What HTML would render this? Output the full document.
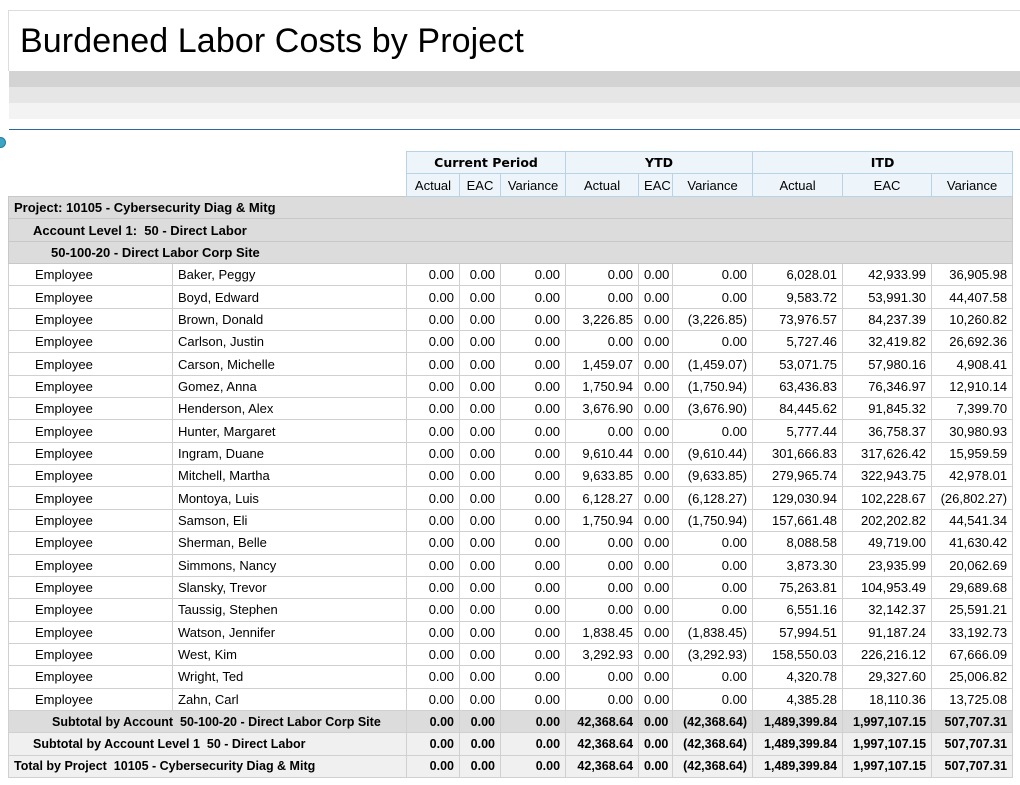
<!DOCTYPE html>
<html><head><meta charset="utf-8"><style>
body{margin:0;width:1020px;height:785px;background:#fff;font-family:"Liberation Sans",Arial,sans-serif;position:relative;overflow:hidden}
.hdr{position:absolute;left:8px;top:10px;width:1012px;height:60px;border-top:1px solid #ddd;border-left:1px solid #ddd}
.hdr h1{margin:0;font-weight:normal;font-size:34px;position:absolute;left:11px;top:11px;color:#000;letter-spacing:0.1px}
.b1{position:absolute;left:9px;top:71px;width:1011px;height:16px;background:#d3d3d3}
.b2{position:absolute;left:9px;top:87px;width:1011px;height:16px;background:#e6e6e6}
.b3{position:absolute;left:9px;top:103px;width:1011px;height:16px;background:#f3f3f3}
.bl{position:absolute;left:9px;top:129px;width:1011px;height:1px;background:#2a6a9a}
.dot{position:absolute;left:-5px;top:137px;width:9px;height:9px;border-radius:50%;background:#3aa6c4;border:1px solid #1a7fa0}
table{position:absolute;left:8px;top:151px;border-collapse:collapse;table-layout:fixed;width:1004px;font-size:13px}
td{padding:0 5px;height:21.35px;border:1px solid #d0d0d0;white-space:nowrap;overflow:hidden}
tr.h td{background:#edf4fa;border:1px solid #b9d3e6;text-align:center}
tr.h td.e{background:#fff;border:none}
tr.h1 td{font-weight:bold;font-family:"DejaVu Sans",sans-serif;font-size:12.5px;height:21px}
tr.h2 td{height:22px}
tr.g td{background:#dcdcdc;font-weight:bold;border-color:#c8c8c8}
td.n{text-align:right}
tr.s td{font-weight:bold;background:#dcdcdc;text-align:right;font-size:12.5px}
tr.s2 td{background:#f0f0f0}
tr.s td.l{text-align:left}
</style></head><body>
<div class="hdr"><h1>Burdened Labor Costs by Project</h1></div>
<div class="b1"></div><div class="b2"></div><div class="b3"></div><div class="bl"></div><div class="dot"></div>
<table>
<colgroup><col style="width:164px"><col style="width:234px"><col style="width:53px"><col style="width:41px"><col style="width:65px"><col style="width:73px"><col style="width:34px"><col style="width:80px"><col style="width:90px"><col style="width:89px"><col style="width:81px"></colgroup>
<tr class="h h1"><td class="e"></td><td class="e"></td><td colspan="3">Current Period</td><td colspan="3">YTD</td><td colspan="3">ITD</td></tr>
<tr class="h h2"><td class="e"></td><td class="e"></td><td>Actual</td><td>EAC</td><td>Variance</td><td>Actual</td><td>EAC</td><td>Variance</td><td>Actual</td><td>EAC</td><td>Variance</td></tr>
<tr class="g"><td colspan="11" style="padding-left:5px">Project: 10105 - Cybersecurity Diag &amp; Mitg</td></tr>
<tr class="g"><td colspan="11" style="padding-left:24px">Account Level 1:&nbsp; 50 - Direct Labor</td></tr>
<tr class="g"><td colspan="11" style="padding-left:42px">50-100-20 - Direct Labor Corp Site</td></tr>
<tr><td style="padding-left:26px">Employee</td><td>Baker, Peggy</td><td class="n">0.00</td><td class="n">0.00</td><td class="n">0.00</td><td class="n">0.00</td><td class="n">0.00</td><td class="n">0.00</td><td class="n">6,028.01</td><td class="n">42,933.99</td><td class="n">36,905.98</td></tr>
<tr><td style="padding-left:26px">Employee</td><td>Boyd, Edward</td><td class="n">0.00</td><td class="n">0.00</td><td class="n">0.00</td><td class="n">0.00</td><td class="n">0.00</td><td class="n">0.00</td><td class="n">9,583.72</td><td class="n">53,991.30</td><td class="n">44,407.58</td></tr>
<tr><td style="padding-left:26px">Employee</td><td>Brown, Donald</td><td class="n">0.00</td><td class="n">0.00</td><td class="n">0.00</td><td class="n">3,226.85</td><td class="n">0.00</td><td class="n">(3,226.85)</td><td class="n">73,976.57</td><td class="n">84,237.39</td><td class="n">10,260.82</td></tr>
<tr><td style="padding-left:26px">Employee</td><td>Carlson, Justin</td><td class="n">0.00</td><td class="n">0.00</td><td class="n">0.00</td><td class="n">0.00</td><td class="n">0.00</td><td class="n">0.00</td><td class="n">5,727.46</td><td class="n">32,419.82</td><td class="n">26,692.36</td></tr>
<tr><td style="padding-left:26px">Employee</td><td>Carson, Michelle</td><td class="n">0.00</td><td class="n">0.00</td><td class="n">0.00</td><td class="n">1,459.07</td><td class="n">0.00</td><td class="n">(1,459.07)</td><td class="n">53,071.75</td><td class="n">57,980.16</td><td class="n">4,908.41</td></tr>
<tr><td style="padding-left:26px">Employee</td><td>Gomez, Anna</td><td class="n">0.00</td><td class="n">0.00</td><td class="n">0.00</td><td class="n">1,750.94</td><td class="n">0.00</td><td class="n">(1,750.94)</td><td class="n">63,436.83</td><td class="n">76,346.97</td><td class="n">12,910.14</td></tr>
<tr><td style="padding-left:26px">Employee</td><td>Henderson, Alex</td><td class="n">0.00</td><td class="n">0.00</td><td class="n">0.00</td><td class="n">3,676.90</td><td class="n">0.00</td><td class="n">(3,676.90)</td><td class="n">84,445.62</td><td class="n">91,845.32</td><td class="n">7,399.70</td></tr>
<tr><td style="padding-left:26px">Employee</td><td>Hunter, Margaret</td><td class="n">0.00</td><td class="n">0.00</td><td class="n">0.00</td><td class="n">0.00</td><td class="n">0.00</td><td class="n">0.00</td><td class="n">5,777.44</td><td class="n">36,758.37</td><td class="n">30,980.93</td></tr>
<tr><td style="padding-left:26px">Employee</td><td>Ingram, Duane</td><td class="n">0.00</td><td class="n">0.00</td><td class="n">0.00</td><td class="n">9,610.44</td><td class="n">0.00</td><td class="n">(9,610.44)</td><td class="n">301,666.83</td><td class="n">317,626.42</td><td class="n">15,959.59</td></tr>
<tr><td style="padding-left:26px">Employee</td><td>Mitchell, Martha</td><td class="n">0.00</td><td class="n">0.00</td><td class="n">0.00</td><td class="n">9,633.85</td><td class="n">0.00</td><td class="n">(9,633.85)</td><td class="n">279,965.74</td><td class="n">322,943.75</td><td class="n">42,978.01</td></tr>
<tr><td style="padding-left:26px">Employee</td><td>Montoya, Luis</td><td class="n">0.00</td><td class="n">0.00</td><td class="n">0.00</td><td class="n">6,128.27</td><td class="n">0.00</td><td class="n">(6,128.27)</td><td class="n">129,030.94</td><td class="n">102,228.67</td><td class="n">(26,802.27)</td></tr>
<tr><td style="padding-left:26px">Employee</td><td>Samson, Eli</td><td class="n">0.00</td><td class="n">0.00</td><td class="n">0.00</td><td class="n">1,750.94</td><td class="n">0.00</td><td class="n">(1,750.94)</td><td class="n">157,661.48</td><td class="n">202,202.82</td><td class="n">44,541.34</td></tr>
<tr><td style="padding-left:26px">Employee</td><td>Sherman, Belle</td><td class="n">0.00</td><td class="n">0.00</td><td class="n">0.00</td><td class="n">0.00</td><td class="n">0.00</td><td class="n">0.00</td><td class="n">8,088.58</td><td class="n">49,719.00</td><td class="n">41,630.42</td></tr>
<tr><td style="padding-left:26px">Employee</td><td>Simmons, Nancy</td><td class="n">0.00</td><td class="n">0.00</td><td class="n">0.00</td><td class="n">0.00</td><td class="n">0.00</td><td class="n">0.00</td><td class="n">3,873.30</td><td class="n">23,935.99</td><td class="n">20,062.69</td></tr>
<tr><td style="padding-left:26px">Employee</td><td>Slansky, Trevor</td><td class="n">0.00</td><td class="n">0.00</td><td class="n">0.00</td><td class="n">0.00</td><td class="n">0.00</td><td class="n">0.00</td><td class="n">75,263.81</td><td class="n">104,953.49</td><td class="n">29,689.68</td></tr>
<tr><td style="padding-left:26px">Employee</td><td>Taussig, Stephen</td><td class="n">0.00</td><td class="n">0.00</td><td class="n">0.00</td><td class="n">0.00</td><td class="n">0.00</td><td class="n">0.00</td><td class="n">6,551.16</td><td class="n">32,142.37</td><td class="n">25,591.21</td></tr>
<tr><td style="padding-left:26px">Employee</td><td>Watson, Jennifer</td><td class="n">0.00</td><td class="n">0.00</td><td class="n">0.00</td><td class="n">1,838.45</td><td class="n">0.00</td><td class="n">(1,838.45)</td><td class="n">57,994.51</td><td class="n">91,187.24</td><td class="n">33,192.73</td></tr>
<tr><td style="padding-left:26px">Employee</td><td>West, Kim</td><td class="n">0.00</td><td class="n">0.00</td><td class="n">0.00</td><td class="n">3,292.93</td><td class="n">0.00</td><td class="n">(3,292.93)</td><td class="n">158,550.03</td><td class="n">226,216.12</td><td class="n">67,666.09</td></tr>
<tr><td style="padding-left:26px">Employee</td><td>Wright, Ted</td><td class="n">0.00</td><td class="n">0.00</td><td class="n">0.00</td><td class="n">0.00</td><td class="n">0.00</td><td class="n">0.00</td><td class="n">4,320.78</td><td class="n">29,327.60</td><td class="n">25,006.82</td></tr>
<tr><td style="padding-left:26px">Employee</td><td>Zahn, Carl</td><td class="n">0.00</td><td class="n">0.00</td><td class="n">0.00</td><td class="n">0.00</td><td class="n">0.00</td><td class="n">0.00</td><td class="n">4,385.28</td><td class="n">18,110.36</td><td class="n">13,725.08</td></tr>
<tr class="s"><td colspan="2" class="l" style="padding-left:43px">Subtotal by Account&nbsp; 50-100-20 - Direct Labor Corp Site</td><td>0.00</td><td>0.00</td><td>0.00</td><td>42,368.64</td><td>0.00</td><td>(42,368.64)</td><td>1,489,399.84</td><td>1,997,107.15</td><td>507,707.31</td></tr>
<tr class="s s2"><td colspan="2" class="l" style="padding-left:24px">Subtotal by Account Level 1&nbsp; 50 - Direct Labor</td><td>0.00</td><td>0.00</td><td>0.00</td><td>42,368.64</td><td>0.00</td><td>(42,368.64)</td><td>1,489,399.84</td><td>1,997,107.15</td><td>507,707.31</td></tr>
<tr class="s s2"><td colspan="2" class="l" style="padding-left:5px">Total by Project&nbsp; 10105 - Cybersecurity Diag &amp; Mitg</td><td>0.00</td><td>0.00</td><td>0.00</td><td>42,368.64</td><td>0.00</td><td>(42,368.64)</td><td>1,489,399.84</td><td>1,997,107.15</td><td>507,707.31</td></tr>
</table>
</body></html>
